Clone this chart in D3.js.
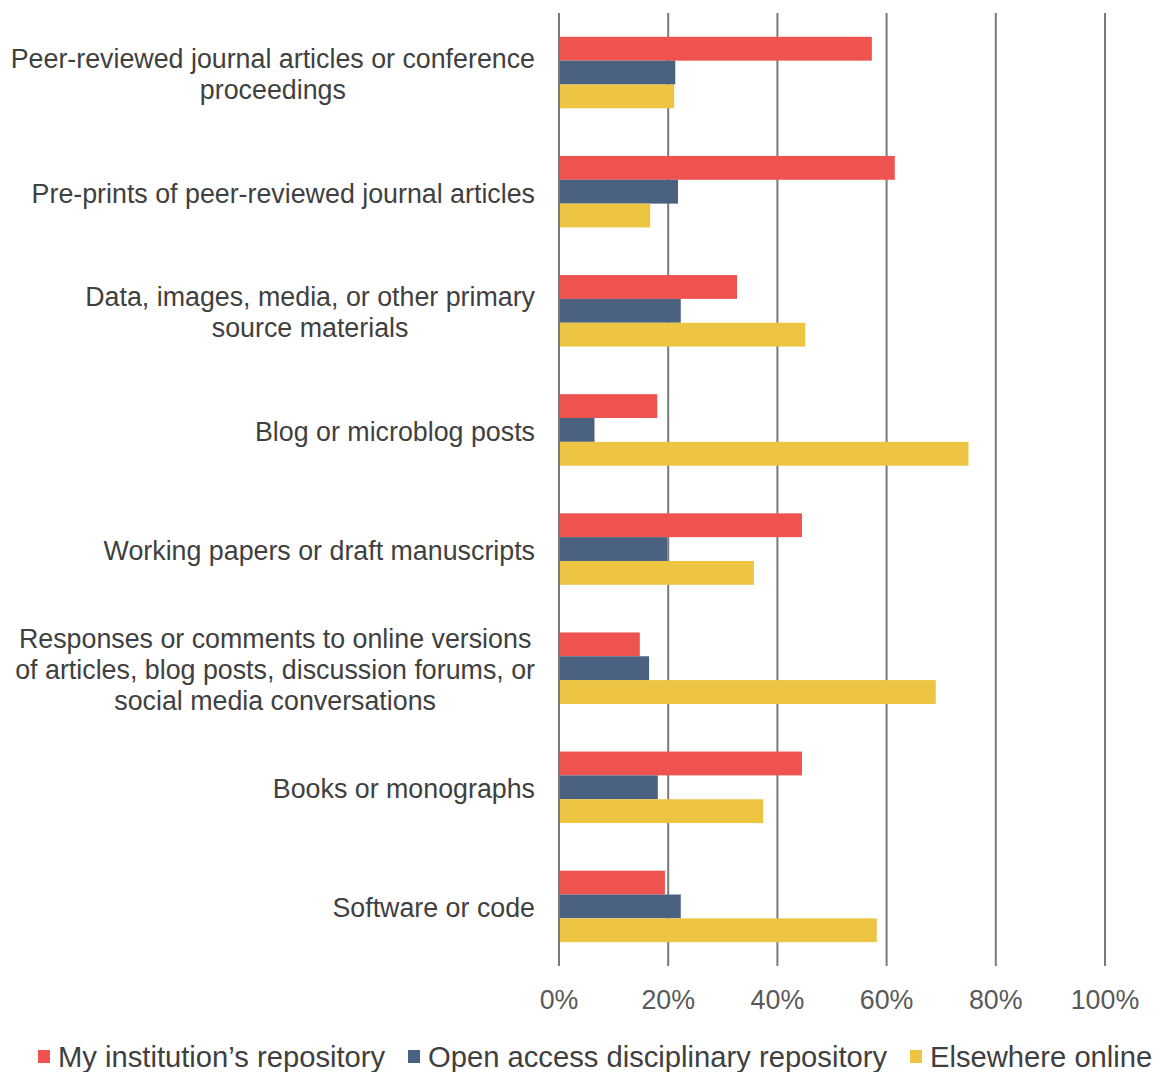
<!DOCTYPE html>
<html><head><meta charset="utf-8">
<script src="https://cdnjs.cloudflare.com/ajax/libs/d3/7.8.5/d3.min.js"></script>
<style>body{margin:0;background:#fff}svg{display:block}</style>
</head><body><svg id="c" width="1156" height="1072"></svg>
<script>
const categories = [
  ["Peer-reviewed journal articles or conference", "proceedings"],
  ["Pre-prints of peer-reviewed journal articles"],
  ["Data, images, media, or other primary", "source materials"],
  ["Blog or microblog posts"],
  ["Working papers or draft manuscripts"],
  ["Responses or comments to online versions", "of articles, blog posts, discussion forums, or", "social media conversations"],
  ["Books or monographs"],
  ["Software or code"]
];
const seriesNames = ["My institution\u2019s repository", "Open access disciplinary repository", "Elsewhere online"];
const institution = [57.3, 61.5, 32.6, 18.0, 44.5, 14.8, 44.5, 19.4];
const disciplinary = [21.3, 21.8, 22.3, 6.5, 19.8, 16.5, 18.1, 22.3];
const elsewhere = [21.1, 16.7, 45.1, 75.0, 35.7, 69.0, 37.4, 58.2];
const tickValues = [0, 20, 40, 60, 80, 100];
const colors = ["#ef5350", "#4a6180", "#eec443"];

const series = [institution, disciplinary, elsewhere];
const svg = d3.select("#c");
const x = d3.scaleLinear().domain([0, 100]).range([559, 1105]);
const y = d3.scaleBand().domain(d3.range(categories.length)).range([13, 966]);
const groupH = 71.5;
const sub = d3.scaleBand().domain(d3.range(3)).range([0, groupH]);
const FONT = "Liberation Sans, Arial, sans-serif";

// gridlines
svg.append("g").selectAll("line").data(tickValues).join("line")
  .attr("x1", d => x(d)).attr("x2", d => x(d))
  .attr("y1", 13).attr("y2", 966)
  .attr("stroke", "#7a7a7a").attr("stroke-width", 2);

// bars
const g = svg.append("g");
categories.forEach((c, i) => {
  const top = y(i) + (y.bandwidth() - groupH) / 2;
  series.forEach((s, k) => {
    g.append("rect")
      .attr("x", x(0) + 1)
      .attr("y", top + sub(k))
      .attr("width", x(s[i]) - x(0) - 1)
      .attr("height", sub.bandwidth())
      .attr("fill", colors[k]);
  });
});

// category labels (block right-aligned, lines centred)
const lh = 30.7;
categories.forEach((lines, i) => {
  const cy = y(i) + y.bandwidth() / 2 + 1.5;
  const grp = svg.append("g");
  const texts = lines.map((ln, j) => grp.append("text")
    .attr("text-anchor", "middle")
    .attr("font-family", FONT)
    .attr("font-size", 26.8)
    .attr("fill", "#404040")
    .attr("y", cy + (j - (lines.length - 1) / 2) * lh)
    .attr("dy", "0.35em")
    .text(ln));
  const maxW = d3.max(texts, t => t.node().getComputedTextLength());
  texts.forEach(t => t.attr("x", 535 - maxW / 2));
});

// x axis labels
svg.append("g").selectAll("text").data(tickValues).join("text")
  .attr("x", d => x(d)).attr("y", 1000).attr("dy", "0.35em")
  .attr("text-anchor", "middle")
  .attr("font-family", FONT)
  .attr("font-size", 26.8).attr("fill", "#595959")
  .text(d => d + "%");

// legend
const legend = svg.append("g");
const legX = [38, 408, 910];
seriesNames.forEach((n, k) => {
  legend.append("rect").attr("x", legX[k]).attr("y", 1050).attr("width", 12).attr("height", 13).attr("fill", colors[k]);
  legend.append("text").attr("x", legX[k] + 20).attr("y", 1057).attr("dy", "0.35em")
    .attr("font-family", FONT)
    .attr("font-size", 29.2).attr("fill", "#404040").text(n);
});
</script></body></html>
